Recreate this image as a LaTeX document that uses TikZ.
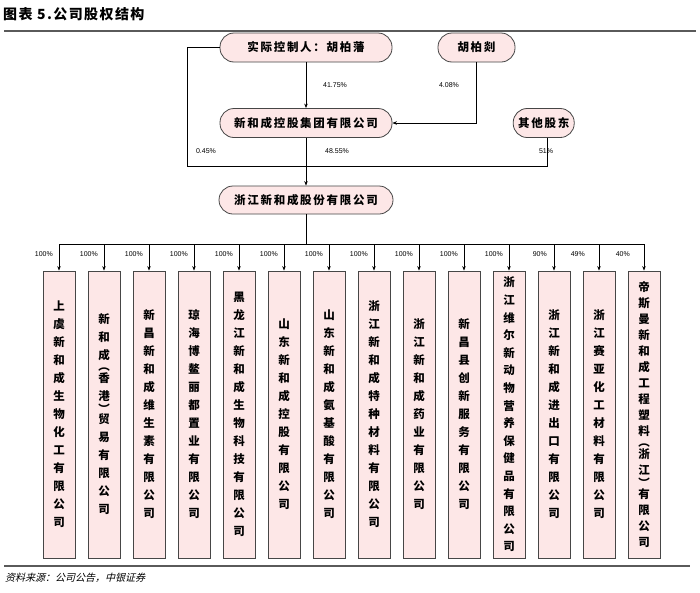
\documentclass[tikz,border=0pt]{standalone}
\usepackage{fontspec}
\setmainfont{Liberation Sans}
\newfontfamily\cjk{Noto Sans CJK SC}
\newfontfamily\cjksp{Noto Sans CJK SC}[LetterSpace=15]
\newfontfamily\cjkti{Noto Sans CJK SC}[LetterSpace=10]
\newfontfamily\cjksl{Noto Sans CJK SC}[FakeSlant=0.25]
\usetikzlibrary{arrows.meta}
\definecolor{boxfill}{RGB}{253,231,231}
\definecolor{bordc}{RGB}{70,70,70}
\definecolor{rulec}{RGB}{90,90,90}
\begin{document}
\begin{tikzpicture}[x=1pt,y=-1pt,
  top/.style={draw=bordc, fill=boxfill, line width=0.8pt, rounded corners=14pt,
    minimum height=29pt, inner sep=0pt, font=\cjksp\bfseries\fontsize{11.5}{12}\selectfont},
  sub/.style={draw=bordc, fill=boxfill, line width=0.8pt, minimum width=32pt,
    minimum height=287pt, inner sep=0pt, align=center,
    font=\cjk\bfseries\fontsize{11.5}{#1}\selectfont},
  pct/.style={font=\fontsize{7}{8}\selectfont, inner sep=0pt},
  ln/.style={line width=0.7pt, draw=black},
  arr/.style={ln, -{Stealth[length=4.5pt,width=3.5pt]}}]
\useasboundingbox (0,0) rectangle (700,592);
\fill[white] (0,0) rectangle (700,592);
% title and rules
\node[anchor=west, inner sep=0pt, font=\cjkti\bfseries\fontsize{14}{16}\selectfont] (title) at (3,14) {图表 5.公司股权结构};
\draw[rulec, line width=1.6pt] (4,31) -- (696,31);
\draw[rulec, line width=1.6pt] (4,566) -- (690,566);
\node[anchor=west, inner sep=0pt, font=\cjksl\fontsize{10}{12}\selectfont] (src) at (5,578) {资料来源：公司公告，中银证券};
% top nodes
\node[top, minimum width=172pt] (A) at (306,47.5) {实际控制人：胡柏藩};
\node[top, minimum width=77pt] (B) at (476.5,47.5) {胡柏剡};
\node[top, minimum width=172pt] (C) at (306,123) {新和成控股集团有限公司};
\node[top, minimum width=61pt] (D) at (543.7,123) {其他股东};
\node[top, minimum width=174pt, minimum height=28pt] (E) at (306,200) {浙江新和成股份有限公司};
\coordinate (Ds) at ([xshift=4pt]D.south);
\coordinate (L1) at (187,47.5);
\coordinate (L2) at (187,166);
\coordinate (Dk) at (Ds |- L2);
\draw[arr] (A.south) -- (C.north);
\draw[arr] (B.south) |- (C.east);
\draw[ln] (A.west) -- (L1) -- (L2) -- (Dk) -- (Ds);
\draw[arr] (C.south) -- (E.north);
\node[pct] (p1) at (335,85) {41.75\%};
\node[pct] (p2) at (449,85) {4.08\%};
\node[pct] (p3) at (206,151) {0.45\%};
\node[pct] (p4) at (337,151) {48.55\%};
\node[pct] (p5) at (546,151) {51\%};
% bus
\coordinate (busL) at (59,244);
\coordinate (busR) at (644,244);
\coordinate (Eb) at (E.south |- busL);
\draw[ln] (E.south) -- (Eb);
\draw[ln] (busL) -- (busR);
% children
\foreach \i/\p/\g/\b/\t in {
 0/100/6/18/{上\\虞\\新\\和\\成\\生\\物\\化\\工\\有\\限\\公\\司},
 1/100/6/18/{新\\和\\成\\[-7pt]︵\\[-6pt]香\\港\\[-5pt]︶\\[-8pt]贸\\易\\有\\限\\公\\司},
 2/100/6/18/{新\\昌\\新\\和\\成\\维\\生\\素\\有\\限\\公\\司},
 3/100/6/18/{琼\\海\\博\\鳌\\丽\\都\\置\\业\\有\\限\\公\\司},
 4/100/6/18/{黑\\龙\\江\\新\\和\\成\\生\\物\\科\\技\\有\\限\\公\\司},
 5/100/6/18/{山\\东\\新\\和\\成\\控\\股\\有\\限\\公\\司},
 6/100/6/18/{山\\东\\新\\和\\成\\氨\\基\\酸\\有\\限\\公\\司},
 7/100/6/18/{浙\\江\\新\\和\\成\\特\\种\\材\\料\\有\\限\\公\\司},
 8/100/6/18/{浙\\江\\新\\和\\成\\药\\业\\有\\限\\公\\司},
 9/100/6/18/{新\\昌\\县\\创\\新\\服\\务\\有\\限\\公\\司},
 10/100/6/17.6/{浙\\江\\维\\尔\\新\\动\\物\\营\\养\\保\\健\\品\\有\\限\\公\\司},
 11/90/7/18/{浙\\江\\新\\和\\成\\进\\出\\口\\有\\限\\公\\司},
 12/49/14/18/{浙\\江\\赛\\亚\\化\\工\\材\\料\\有\\限\\公\\司},
 13/40/14/16/{帝\\斯\\曼\\新\\和\\成\\工\\程\\塑\\料\\[-5pt]︵\\[-4pt]浙\\江\\[-3pt]︶\\[-5pt]有\\限\\公\\司}} {
  \pgfmathsetmacro{\cx}{59+45*\i}
  \node[sub=\b] (s\i) at (\cx,414.5) {\t};
  \coordinate (t\i) at (\cx,244);
  \draw[arr] (t\i) -- (s\i.north);
  \node[pct, anchor=east] (q\i) at (\cx-\g,254) {\p\%};
}
\end{tikzpicture}
\end{document}
